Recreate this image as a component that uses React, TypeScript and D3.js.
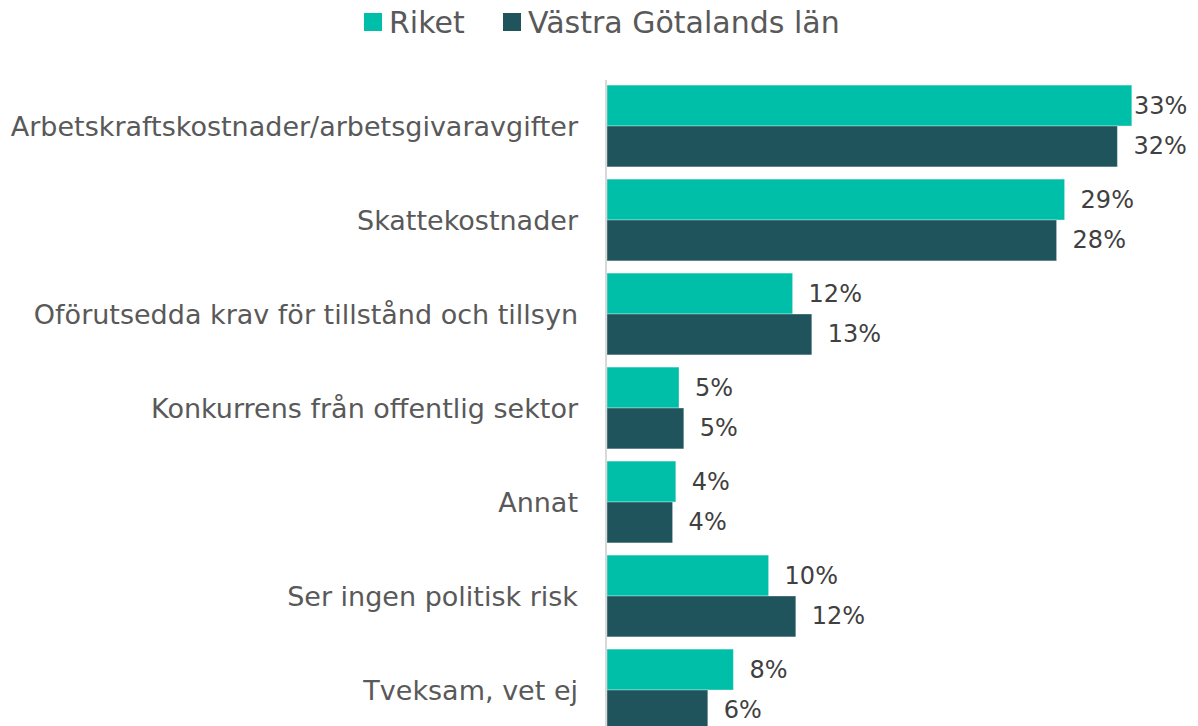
import React from "react";
import * as d3 from "d3";

const categories = [
  "Arbetskraftskostnader/arbetsgivaravgifter",
  "Skattekostnader",
  "Oförutsedda krav för tillstånd och tillsyn",
  "Konkurrens från offentlig sektor",
  "Annat",
  "Ser ingen politisk risk",
  "Tveksam, vet ej",
];
const seriesNames = ["Riket", "Västra Götalands län"];
const riket = [32.8, 28.6, 11.6, 4.5, 4.3, 10.1, 7.9];
const vastra = [31.9, 28.1, 12.8, 4.8, 4.1, 11.8, 6.3];
const colors = ["#00BFA8", "#1F545C"];

const W = 1198;
const H = 726;
const FONT = "'DejaVu Sans', sans-serif";

export default function App() {
  const x = d3.scaleLinear().domain([0, 35]).range([607, 1167]);
  const y0 = d3
    .scaleBand<string>()
    .domain(categories)
    .range([79, 737])
    .paddingInner(0.13)
    .paddingOuter(0.065);
  const y1 = d3
    .scaleBand<string>()
    .domain(seriesNames)
    .range([0, y0.bandwidth()]);
  const series = [riket, vastra];

  return (
    <svg
      width={W}
      height={H}
      style={{ position: "absolute", left: 0, top: 0, background: "#fff" }}
      fontFamily={FONT}
    >
      {/* legend */}
      <g>
        <rect x={364} y={13} width={18} height={18} fill={colors[0]} />
        <text x={389} y={22} dominantBaseline="central" fontSize={30} fill="#595959">
          {seriesNames[0]}
        </text>
        <rect x={503} y={13} width={18} height={18} fill={colors[1]} />
        <text x={528} y={22} dominantBaseline="central" fontSize={30} fill="#595959">
          {seriesNames[1]}
        </text>
      </g>
      {/* bars */}
      {categories.map((c, i) => (
        <g key={c}>
          {series.map((vals, s) => {
            const yy = (y0(c) ?? 0) + (y1(seriesNames[s]) ?? 0);
            const w = x(vals[i]) - x(0);
            const lx = Math.min(x(vals[i]) + 16, 1134);
            return (
              <g key={s}>
                <rect
                  x={x(0)}
                  y={yy}
                  width={w}
                  height={y1.bandwidth()}
                  fill={colors[s]}
                  stroke="#ffffff"
                  strokeOpacity={0.35}
                  strokeWidth={1}
                />
                <text
                  x={lx}
                  y={yy + y1.bandwidth() / 2}
                  dominantBaseline="central"
                  fontSize={24}
                  fill="#404040"
                >
                  {Math.round(vals[i])}%
                </text>
              </g>
            );
          })}
          <text
            x={578}
            y={(y0(c) ?? 0) + y0.bandwidth() / 2}
            textAnchor="end"
            dominantBaseline="central"
            fontSize={27}
            fill="#595959"
          >
            {c}
          </text>
        </g>
      ))}
      {/* axis line */}
      <line x1={x(0) - 1} x2={x(0) - 1} y1={80} y2={H} stroke="#D9D9D9" strokeWidth={2} />
    </svg>
  );
}
